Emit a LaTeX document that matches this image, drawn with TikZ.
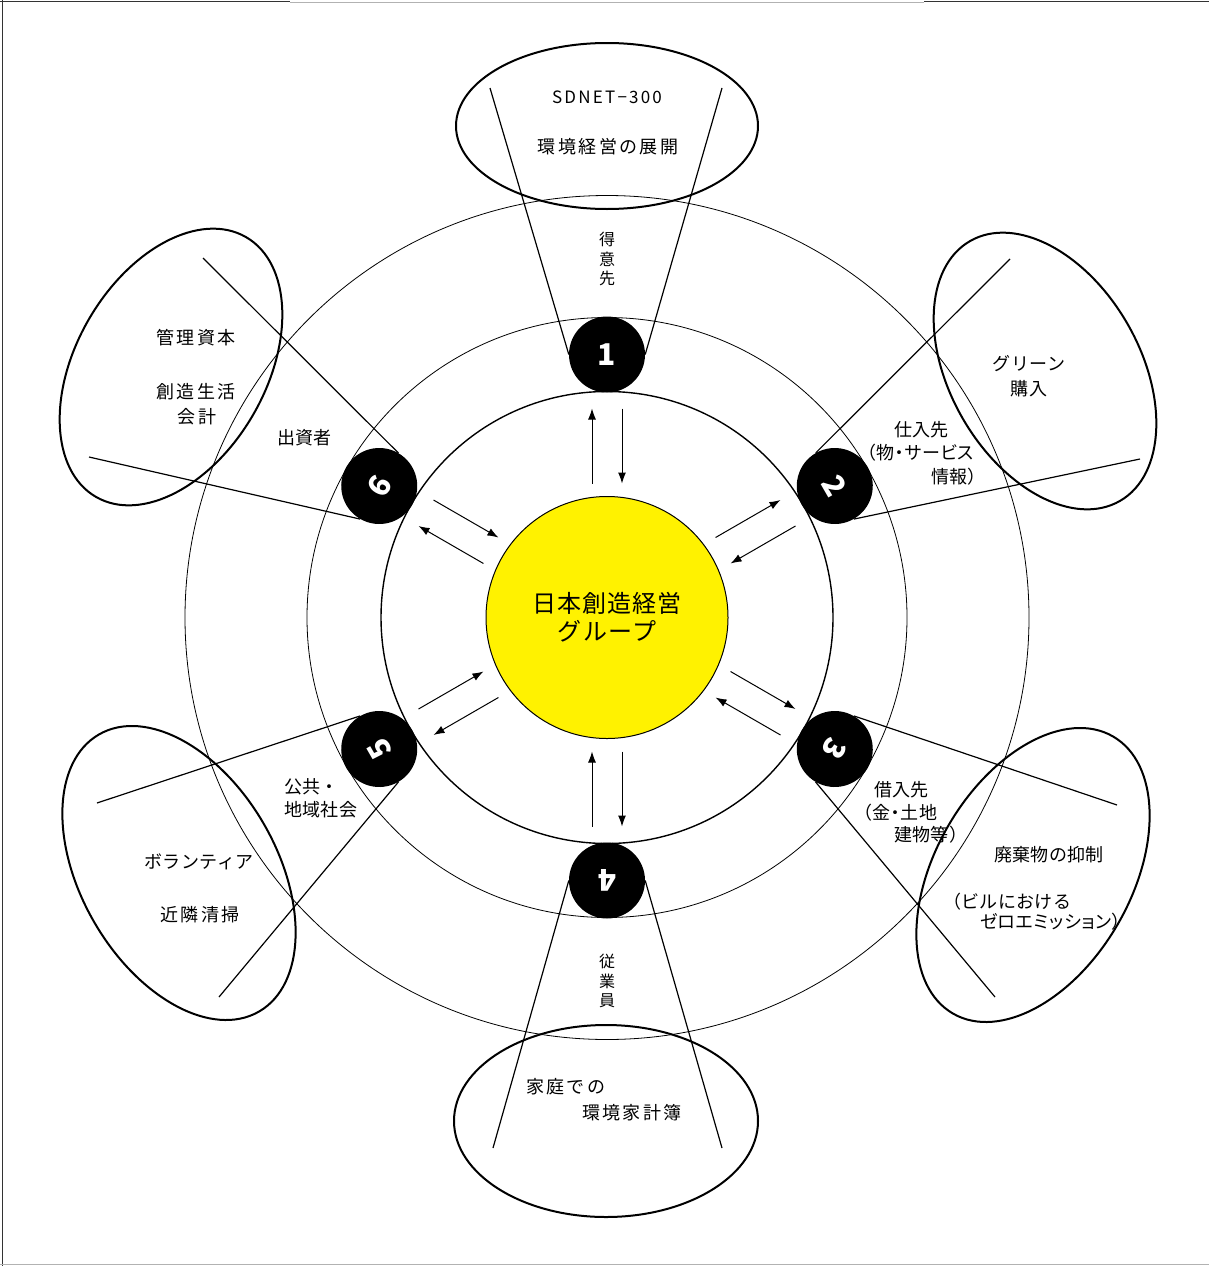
\documentclass[tikz,border=0pt]{standalone}
\usepackage{fontspec}
\setmainfont{Noto Sans CJK JP}
\newfontfamily\jpa[LetterSpace=2]{Noto Sans CJK JP}
\newfontfamily\jpb[LetterSpace=13]{Noto Sans CJK JP}
\newfontfamily\jpp[LetterSpace=3,RawFeature=+palt]{Noto Sans CJK JP}
\newfontfamily\jph[LetterSpace=5]{Noto Sans CJK JP}
\usetikzlibrary{arrows.meta}
\begin{document}
\begin{tikzpicture}[x=1pt,y=1pt,
  ring/.style={draw=black,line width=0.8pt},
  ringb/.style={draw=black,line width=1.4pt},
  ell/.style={draw=black,line width=2pt},
  conn/.style={draw=black,line width=1.2pt},
  arr/.style={draw=black,line width=1pt,-{Latex[length=11pt,width=8pt]}},
  numc/.style={circle,fill=black,text=white,minimum size=76pt,inner sep=0pt,font=\fontsize{30}{30}\selectfont\bfseries},
  hub/.style={circle,draw=black,line width=1pt,fill=yellow,minimum size=242pt,inner sep=0pt,align=center,font=\jph\fontsize{24}{28}\selectfont},
  lbl/.style={inner sep=0pt,font=\jpa\fontsize{18}{21}\selectfont},
  lblw/.style={inner sep=0pt,font=\jpb\fontsize{18}{21}\selectfont},
  lblp/.style={inner sep=0pt,font=\jpp\fontsize{18}{21}\selectfont},
  vlbl/.style={inner sep=0pt,align=center,font=\fontsize{16}{19.5}\selectfont}
]
\useasboundingbox (0,0) rectangle (1209,-1266);
% frame
\draw[black!80,line width=1pt] (2.5,0) -- (2.5,-1266);
\draw[black!80,line width=1.2pt] (0,-1.5) -- (290,-1.5);
\draw[black!30,line width=1pt] (290,-2.5) -- (924,-2.5);
\draw[black!80,line width=1.2pt] (924,-1.5) -- (1209,-1.5);
\draw[black!30,line width=1pt] (0,-1264.5) -- (1209,-1264.5);

\coordinate (C) at (607,-617.5);
% rings
\draw[ring] (C) circle (422);
\draw[ring] (C) circle (300);
\draw[ringb] (C) circle (226);

% ellipses
\draw[ell] (607,-126) ellipse (151 and 83);
\draw[ell] (606,-1121) ellipse (152 and 96);
\draw[ell,rotate around={60:(171,-367)}] (171,-367) ellipse (150 and 95);
\draw[ell,rotate around={-60:(1045,-371)}] (1045,-371) ellipse (150 and 95);
\draw[ell,rotate around={60:(1033,-875)}] (1033,-875) ellipse (160 and 98);
\draw[ell,rotate around={-60:(179,-873)}] (179,-873) ellipse (160 and 98);

% free ends of the spokes
\coordinate (eL1) at (490,-88);   \coordinate (eR1) at (722,-88);
\coordinate (eL2) at (1010,-259); \coordinate (eR2) at (1140,-459);
\coordinate (eL3) at (1117,-805); \coordinate (eR3) at (995,-997);
\coordinate (eL4) at (722,-1148); \coordinate (eR4) at (493,-1148);
\coordinate (eL5) at (219,-997);  \coordinate (eR5) at (97,-803);
\coordinate (eL6) at (89,-457);   \coordinate (eR6) at (203,-258);

% sectors
\foreach \a/\d in {90/1,30/2,-30/3,-90/4,-150/5,150/6}{
  \begin{scope}[shift={(C)},rotate=\a-90]
    \node[numc,rotate=\a-90] (n\d) at (0,263) {\d};
    \draw[conn] (n\d.west) -- (eL\d);
    \draw[conn] (n\d.east) -- (eR\d);
    \coordinate (oa\d) at (-15,134);
    \coordinate (ob\d) at (-15,209);
    \coordinate (ia\d) at (15,209);
    \coordinate (ib\d) at (15,134);
    \draw[arr] (oa\d) -- (ob\d);
    \draw[arr] (ia\d) -- (ib\d);
  \end{scope}
}

% hub
\node[hub] (hub) at (C) {日本創造経営\\グループ};

% top
\node[lbl,font=\jpb\fontsize{17}{21}\selectfont] (t1) at (607,-97) {SDNET−300};
\node[lblw] (t2) at (608,-147) {環境経営の展開};
\node[vlbl] (v1) at (607,-259) {得\\意\\先};
% upper right
\node[lbl] (t3) at (1029,-364) {グリーン};
\node[lbl] (t4) at (1029,-389) {購入};
\node[lbl,anchor=west] (t5) at (894,-430) {仕入先};
\node[lblp,anchor=west] (t6) at (867,-453) {（物・サービス};
\node[lbl,anchor=west] (t7) at (931,-477) {情報）};
% lower right
\node[lbl,anchor=west] (t8) at (874,-790) {借入先};
\node[lblp,anchor=west] (t9) at (863,-813) {（金・土地};
\node[lbl,anchor=west] (t10) at (894,-835) {建物等）};
\node[lbl] (t11) at (1049,-855) {廃棄物の抑制};
\node[lbl,anchor=west] (t12) at (943,-902) {（ビルにおける};
\node[lblp,anchor=west] (t13) at (980,-922) {ゼロエミッション）};
% bottom
\node[vlbl] (v2) at (607,-981) {従\\業\\員};
\node[lblw,anchor=west] (t14) at (526,-1087) {家庭での};
\node[lblw,anchor=west] (t15) at (582,-1113) {環境家計簿};
% lower left
\node[lbl,anchor=west] (t16) at (284,-787) {公共・};
\node[lbl,anchor=west] (t17) at (284,-810) {地域社会};
\node[lbl] (t18) at (199,-862) {ボランティア};
\node[lblw] (t19) at (200,-915) {近隣清掃};
% upper left
\node[lblw] (t20) at (196,-338) {管理資本};
\node[lblw] (t21) at (196,-392) {創造生活};
\node[lblw] (t22) at (197,-417) {会計};
\node[lbl,anchor=west] (t23) at (277,-438) {出資者};
\end{tikzpicture}
\end{document}
